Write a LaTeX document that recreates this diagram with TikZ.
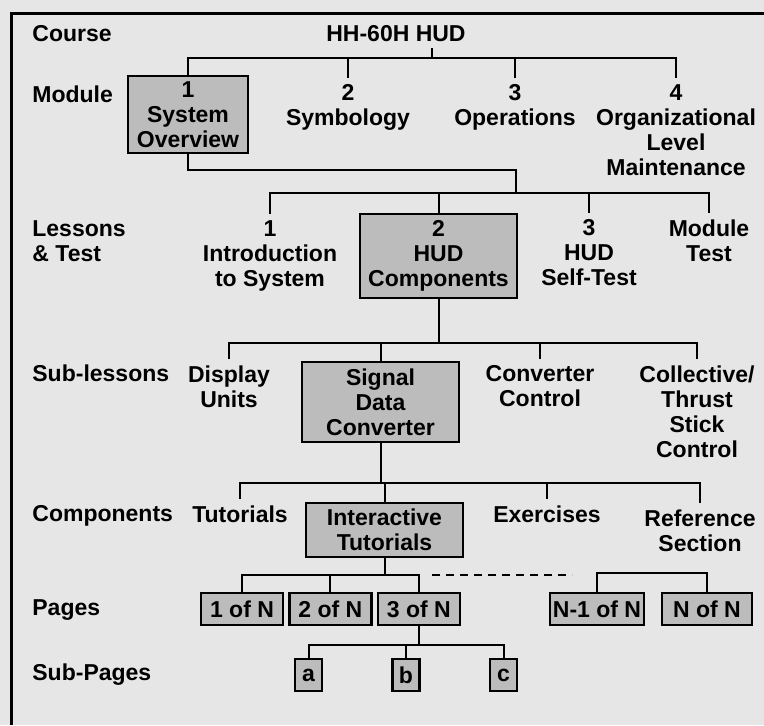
\documentclass[tikz,border=0pt]{standalone}
\usepackage{fontspec}
\setmainfont{Liberation Sans}
\usetikzlibrary{positioning}
\definecolor{bggray}{RGB}{230,230,230}
\definecolor{boxgray}{RGB}{188,188,188}

\begin{document}
\begin{tikzpicture}[x=0.5pt,y=-0.5pt,node distance=2pt,
    font=\fontsize{11.5}{12.5}\selectfont\bfseries,
    every node/.style={inner sep=0pt},
    row/.style={anchor=base west},
    lbl/.style={anchor=north,align=center,inner ysep=3pt},
    box/.style={draw,line width=1.2pt,fill=boxgray,align=center,minimum width=78.5pt},
    page/.style={draw,line width=1.2pt,fill=boxgray,minimum height=16pt},
    link/.style={line width=1pt}]
    \fill[bggray] (0,0) rectangle (764,725);
    \useasboundingbox (0,0) rectangle (764,725);
    \draw[line width=1.5pt] (11,725) -- (11,13) -- (764,13);

    % level names
    \node[row] (lcourse) at (32,41) {Course};
    \node[row] (lmodule) at (32,102) {Module};
    \node[anchor=north west,align=left] (llesson) at (32,220) {Lessons\\\& Test};
    \node[row] (lsub) at (32,381) {Sub-lessons};
    \node[row] (lcomp) at (32,521) {Components};
    \node[row] (lpages) at (32,615) {Pages};
    \node[row] (lsubpages) at (32,680) {Sub-Pages};

    % course and modules
    \node[lbl] (course) at (396,19) {HH-60H HUD};
    \node[box,minimum width=60pt,minimum height=38.5pt] (m1) at (188,114.5) {1\\System\\Overview};
    \node[lbl] (m2) at (348,78) {2\\Symbology};
    \node[lbl] (m3) at (515,78) {3\\Operations};
    \node[lbl] (m4) at (676,78) {4\\Organizational\\Level\\Maintenance};

    % lessons & test
    \node[lbl] (s1) at (270,214) {1\\Introduction\\to System};
    \node[box,minimum height=42pt] (s2) at (438.5,256) {2\\HUD\\Components};
    \node[lbl] (s3) at (589,213) {3\\HUD\\Self-Test};
    \node[lbl] (s4) at (709,213) {Module\\Test};

    % sub-lessons
    \node[lbl] (u1) at (229,359) {Display\\Units};
    \node[box,minimum height=40pt] (u2) at (380.5,402) {Signal\\Data\\Converter};
    \node[lbl] (u3) at (540,359) {Converter\\Control};
    \node[lbl] (u4) at (697,359) {Collective/\\Thrust\\Stick\\Control};

    % components
    \node[lbl] (c1) at (240,499) {Tutorials};
    \node[box,minimum height=27pt] (c2) at (384.5,530) {Interactive\\Tutorials};
    \node[lbl] (c3) at (547,499) {Exercises};
    \node[lbl] (c4) at (700,503) {Reference\\Section};

    % pages
    \node[page,minimum width=41pt] (p1) at (242,609) {1 of N};
    \node[page,minimum width=41pt,right=of p1] (p2) {2 of N};
    \node[page,minimum width=41pt,right=of p2] (p3) {3 of N};
    \node[page,minimum width=47pt] (p4) at (597,609) {N-1 of N};
    \node[page,minimum width=45pt] (p5) at (707,609) {N of N};

    % sub-pages
    \node[page,minimum width=13.5pt] (sa) at (308.5,675) {a};
    \node[page,minimum width=13.5pt] (sb) at (406,675) {b};
    \node[page,minimum width=13.5pt] (sc) at (503.5,675) {c};

    \coordinate (cj) at (432,58);
    \coordinate (mj) at (516,170);
    \coordinate (lj) at (516,193);
    \coordinate (uj) at (435,343);
    \coordinate (kj) at (383,483);
    \coordinate (pj) at (384,575);
    \coordinate (dashA) at (432,575);
    \coordinate (dashB) at (572,575);
    \coordinate (sj) at (407,645);

    \draw[link] (course.south -| cj) -- (cj);
    \draw[link] (m1.north) |- (m4.north |- cj) -- (m4.north);
    \draw[link] (m2.north |- cj) -- (m2.north);
    \draw[link] (m3.north |- cj) -- (m3.north);

    \draw[link] (m1.south) |- (mj) -- (lj);
    \draw[link] (s1.north) |- (s4.north |- lj) -- (s4.north);
    \draw[link] (s2.north |- lj) -- (s2.north);
    \draw[link] (s3.north |- lj) -- (s3.north);

    \draw[link] (s2.south) -- (s2.south |- uj);
    \draw[link] (u1.north) |- (u4.north |- uj) -- (u4.north);
    \draw[link] (u2.north |- uj) -- (u2.north);
    \draw[link] (u3.north |- uj) -- (u3.north);

    \draw[link] (u2.south) -- (u2.south |- kj);
    \draw[link] (c1.north) |- (c4.north |- kj) -- (c4.north);
    \draw[link] (c2.north |- kj) -- (c2.north);
    \draw[link] (c3.north |- kj) -- (c3.north);

    \draw[link] (c2.south) -- (c2.south |- pj);
    \draw[link] (p1.north) |- (p3.north |- pj) -- (p3.north);
    \draw[link] (p2.north |- pj) -- (p2.north);
    \draw[link,dash pattern=on 4pt off 3pt] (dashA) -- (dashB);
    \draw[link] (p4.north) -- ++(0,-19) -| (p5.north);

    \draw[link] (p3.south) -- (p3.south |- sj);
    \draw[link] (sa.north) |- (sc.north |- sj) -- (sc.north);
    \draw[link] (sb.north |- sj) -- (sb.north);
\end{tikzpicture}
\end{document}
